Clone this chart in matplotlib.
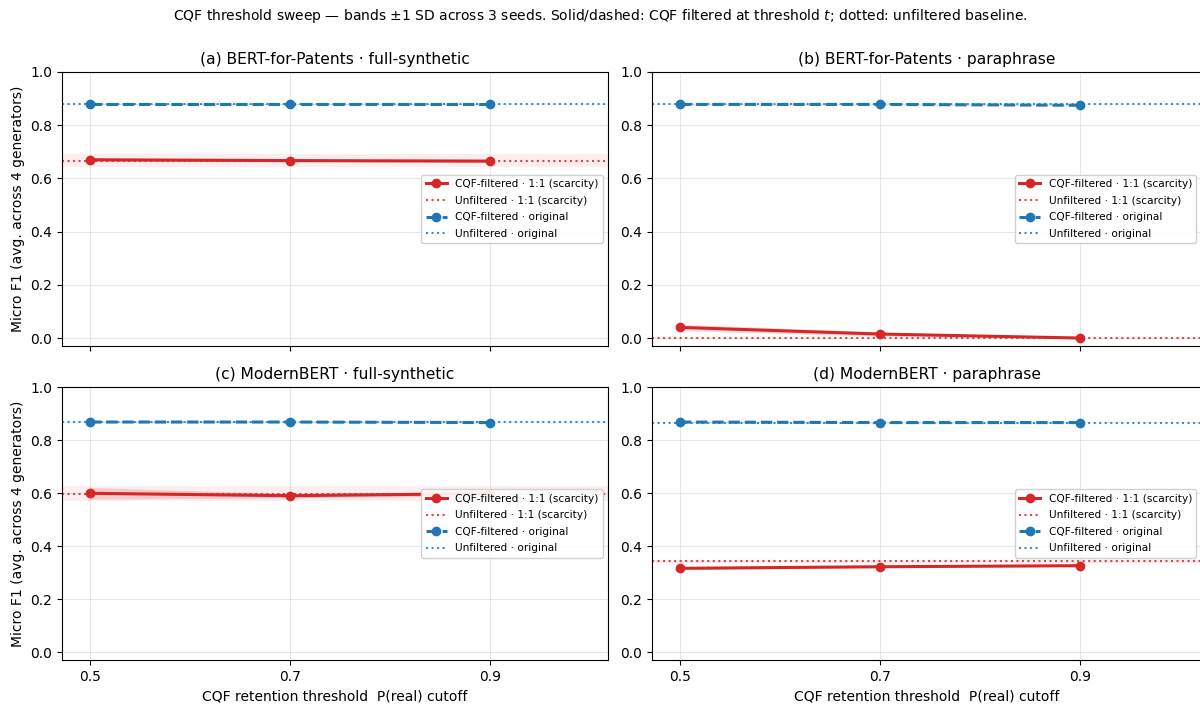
import numpy as np
import matplotlib.pyplot as plt

# thresholds on the x axis
thresholds = [0.5, 0.7, 0.9]

panel_titles = ["(a) BERT-for-Patents · full-synthetic",
                "(b) BERT-for-Patents · paraphrase",
                "(c) ModernBERT · full-synthetic",
                "(d) ModernBERT · paraphrase"]

# CQF-filtered, 1:1 (scarcity) -- mean and sd per threshold
scar_mean = [[0.670, 0.667, 0.665],
             [0.040, 0.015, 0.000],
             [0.599, 0.590, 0.598],
             [0.316, 0.322, 0.326]]
scar_sd = [[0.006, 0.004, 0.004],
           [0.012, 0.008, 0.002],
           [0.022, 0.008, 0.008],
           [0.004, 0.004, 0.004]]
# unfiltered 1:1 baseline
scar_base = [0.667, 0.000, 0.598, 0.342]
scar_base_sd = [0.024, 0.000, 0.028, 0.006]

# CQF-filtered, original data
orig_mean = [[0.878, 0.878, 0.878],
             [0.878, 0.878, 0.875],
             [0.868, 0.868, 0.866],
             [0.868, 0.866, 0.866]]
orig_sd = [[0.002, 0.002, 0.002],
           [0.002, 0.002, 0.002],
           [0.002, 0.002, 0.002],
           [0.002, 0.002, 0.002]]
orig_base = [0.878, 0.878, 0.868, 0.866]
orig_base_sd = [0.002, 0.002, 0.002, 0.002]

red = "#d62728"
blue = "#1f77b4"

fig = plt.figure(figsize=(12, 7.05), dpi=100)
# right column runs off the right edge of the picture (spine cut off)
pos = [[0.0517, 0.5092, 0.455, 0.3887],
       [0.5433, 0.5092, 0.4580, 0.3887],
       [0.0517, 0.0638, 0.455, 0.3872],
       [0.5433, 0.0638, 0.4580, 0.3872]]
xlims = [(0.472, 1.018), (0.472, 1.0216), (0.472, 1.018), (0.472, 1.0216)]

for i in range(4):
    ax = fig.add_axes(pos[i])
    x = np.array(thresholds)

    # 1:1 scarcity
    m = np.array(scar_mean[i]); s = np.array(scar_sd[i])
    ax.axhspan(scar_base[i] - scar_base_sd[i], scar_base[i] + scar_base_sd[i],
               color=red, alpha=0.08, lw=0)
    ax.fill_between(x, m - s, m + s, color=red, alpha=0.18, lw=0)
    ax.plot(x, m, "-o", color=red, lw=2.2, ms=6, label="CQF-filtered · 1:1 (scarcity)")
    ax.axhline(scar_base[i], color=red, ls=":", lw=1.5, alpha=0.85,
               label="Unfiltered · 1:1 (scarcity)")

    # original
    m = np.array(orig_mean[i]); s = np.array(orig_sd[i])
    ax.axhspan(orig_base[i] - orig_base_sd[i], orig_base[i] + orig_base_sd[i],
               color=blue, alpha=0.08, lw=0)
    ax.fill_between(x, m - s, m + s, color=blue, alpha=0.18, lw=0)
    ax.plot(x, m, "--o", color=blue, lw=2.2, ms=6, label="CQF-filtered · original")
    ax.axhline(orig_base[i], color=blue, ls=":", lw=1.5, alpha=0.85,
               label="Unfiltered · original")

    ax.set_xlim(*xlims[i])
    ax.set_ylim(-0.03, 1.0)
    ax.set_xticks(thresholds)
    ax.set_yticks([0.0, 0.2, 0.4, 0.6, 0.8, 1.0])
    ax.grid(True, alpha=0.3)
    ax.set_title(panel_titles[i], fontsize=11.2)
    leg = ax.legend(loc="center right", fontsize=7.6, framealpha=0.9, labelspacing=0.62)
    leg.set_zorder(10)
    if i < 2:
        ax.set_xticklabels([])
    else:
        ax.set_xticklabels(["0.5", "0.7", "0.9"])
        ax.set_xlabel("CQF retention threshold  P(real) cutoff", fontsize=10)
    if i % 2 == 0:
        ax.set_ylabel("Micro F1 (avg. across 4 generators)", fontsize=10)

fig.suptitle("CQF threshold sweep — bands ±1 SD across 3 seeds. Solid/dashed: CQF filtered at "
             "threshold $t$; dotted: unfiltered baseline.", fontsize=10, y=0.99)

fig.savefig("out.png", dpi=100)
